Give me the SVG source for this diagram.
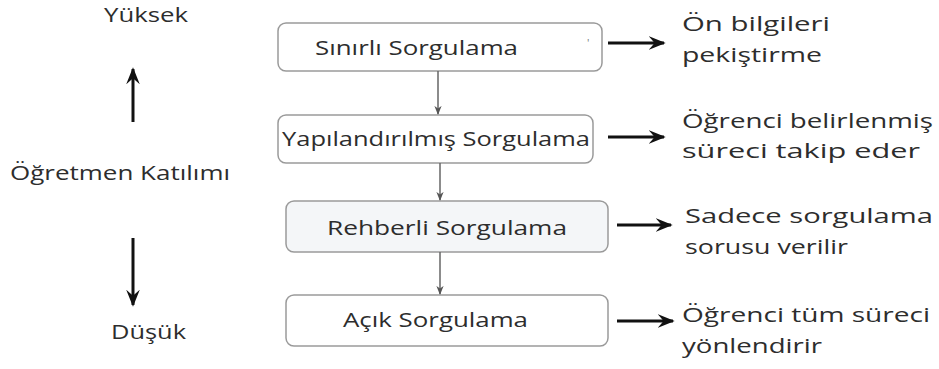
<svg xmlns="http://www.w3.org/2000/svg" width="939" height="369" viewBox="0 0 939 369">
<defs>
<marker id="gh" viewBox="0 0 10 10" refX="9" refY="5" markerWidth="9" markerHeight="9" orient="auto" markerUnits="userSpaceOnUse"><path d="M0,1 L10,5 L0,9 L3,5 Z" fill="#555"/></marker>
<marker id="bh" viewBox="0 0 10 10" refX="9" refY="5" markerWidth="17" markerHeight="17" orient="auto" markerUnits="userSpaceOnUse"><path d="M0,1 L10,5 L0,9 L3.5,5 Z" fill="#111"/></marker>
</defs>
<style>
text{font-family:"Open Sans","Noto Sans","DejaVu Sans",sans-serif;fill:#2d2d2d;font-size:20px}
.box{fill:#fff;stroke:#9a9a9a;stroke-width:1.5}
.box.g{fill:#f4f6f8}
.c{stroke:#666;stroke-width:1.5;fill:none}
.b{stroke:#111;stroke-width:3;fill:none}
</style>
<rect width="939" height="369" fill="#fff"/>
<g id="left">
<text x="104" y="22" textLength="84" lengthAdjust="spacingAndGlyphs">Yüksek</text>
<line class="b" x1="133" y1="122" x2="133" y2="69" marker-end="url(#bh)"/>
<text x="10" y="180" textLength="220" lengthAdjust="spacingAndGlyphs">Öğretmen Katılımı</text>
<line class="b" x1="133" y1="238" x2="133" y2="305" marker-end="url(#bh)"/>
<text x="111" y="339" textLength="75" lengthAdjust="spacingAndGlyphs">Düşük</text>
</g>
<g id="n1"><rect class="box" x="278" y="23" width="324" height="48" rx="8"/><text x="315" y="55" textLength="203" lengthAdjust="spacingAndGlyphs">Sınırlı Sorgulama</text><text x="587" y="47" style="font-size:11px;fill:#777">'</text></g>
<g id="n2"><rect class="box" x="278" y="115" width="315" height="48" rx="8"/><text x="282" y="146" textLength="308" lengthAdjust="spacingAndGlyphs">Yapılandırılmış Sorgulama</text></g>
<g id="n3"><rect class="box g" x="286" y="201" width="322" height="51" rx="8"/><text x="327" y="235" textLength="240" lengthAdjust="spacingAndGlyphs">Rehberli Sorgulama</text></g>
<g id="n4"><rect class="box" x="286" y="295" width="322" height="51" rx="8"/><text x="343" y="327" textLength="185" lengthAdjust="spacingAndGlyphs">Açık Sorgulama</text></g>
<g id="connectors">
<line class="c" x1="438" y1="71" x2="438" y2="114" marker-end="url(#gh)"/>
<line class="c" x1="440" y1="163" x2="440" y2="200" marker-end="url(#gh)"/>
<line class="c" x1="440" y1="252" x2="440" y2="294" marker-end="url(#gh)"/>
<line class="b" x1="608" y1="43" x2="664" y2="43" marker-end="url(#bh)"/>
<line class="b" x1="608" y1="137" x2="664" y2="137" marker-end="url(#bh)"/>
<line class="b" x1="617" y1="225" x2="671" y2="225" marker-end="url(#bh)"/>
<line class="b" x1="617" y1="321" x2="673" y2="321" marker-end="url(#bh)"/>
</g>
<g id="labels">
<text x="682" y="31" textLength="148" lengthAdjust="spacingAndGlyphs">Ön bilgileri</text>
<text x="682" y="62" textLength="140" lengthAdjust="spacingAndGlyphs">pekiştirme</text>
<text x="682" y="128" textLength="251" lengthAdjust="spacingAndGlyphs">Öğrenci belirlenmiş</text>
<text x="682" y="158" textLength="238" lengthAdjust="spacingAndGlyphs">süreci takip eder</text>
<text x="685" y="223" textLength="248" lengthAdjust="spacingAndGlyphs">Sadece sorgulama</text>
<text x="685" y="254" textLength="163" lengthAdjust="spacingAndGlyphs">sorusu verilir</text>
<text x="682" y="322" textLength="248" lengthAdjust="spacingAndGlyphs">Öğrenci tüm süreci</text>
<text x="682" y="353" textLength="140" lengthAdjust="spacingAndGlyphs">yönlendirir</text>
</g>
</svg>
